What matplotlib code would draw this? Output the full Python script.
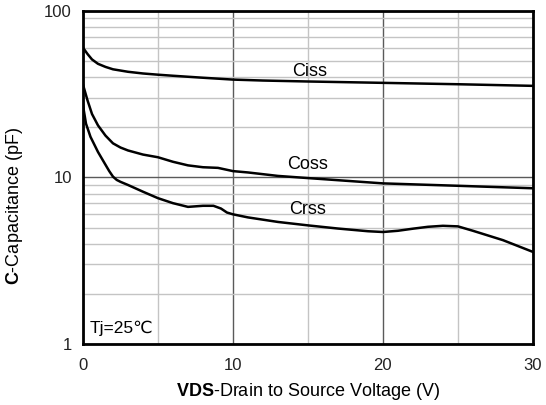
import numpy as np
import matplotlib.pyplot as plt
from matplotlib.ticker import FixedLocator, NullFormatter, FuncFormatter

plt.rcParams['font.family'] = ['Liberation Sans', 'DejaVu Sans']
plt.rcParams['mathtext.fontset'] = 'custom'
plt.rcParams['mathtext.rm'] = 'Liberation Sans'
plt.rcParams['mathtext.bf'] = 'Liberation Sans:bold'

# capacitance vs drain-source voltage, Tj = 25C
vds_ciss = [0, 0.3, 0.6, 1, 1.5, 2, 3, 4, 5, 6, 8, 10, 12, 15, 20, 25, 30]
ciss = [60, 55, 51, 48, 46, 44.5, 43, 42, 41.3, 40.7, 39.6, 38.6, 38.1, 37.6, 36.9, 36.2, 35.4]

vds_coss = [0, 0.3, 0.6, 1, 1.5, 2, 2.5, 3, 4, 5, 6, 7, 8, 9, 10, 11, 13, 15, 20, 25, 30]
coss = [36, 29, 24, 20.5, 17.8, 16, 15.1, 14.5, 13.7, 13.2, 12.4, 11.8, 11.5, 11.4, 10.9,
        10.7, 10.2, 9.9, 9.2, 8.9, 8.6]

vds_crss = [0, 0.2, 0.5, 1, 1.5, 1.75, 2, 2.25, 2.5, 3, 4, 5, 6, 7, 8, 8.7, 9.2, 9.6, 10,
            11, 13, 15, 17, 19, 20, 21, 22, 23, 24, 25, 26, 28, 30]
crss = [27, 21, 17.5, 14.2, 11.9, 10.9, 10.1, 9.65, 9.4, 9.0, 8.2, 7.5, 7.0, 6.65, 6.75,
        6.75, 6.5, 6.15, 6.0, 5.75, 5.4, 5.15, 4.93, 4.75, 4.7, 4.78, 4.92, 5.05, 5.12,
        5.08, 4.78, 4.2, 3.57]

fig = plt.figure(figsize=(5.46, 4.05), dpi=100)
ax = fig.add_axes([0.152, 0.1506, 0.824, 0.823])

ax.set_yscale('log')
ax.set_xlim(0, 30)
ax.set_ylim(1, 100)

ax.xaxis.set_major_locator(FixedLocator([0, 10, 20, 30]))
ax.xaxis.set_minor_locator(FixedLocator([5, 15, 25]))
ax.yaxis.set_major_locator(FixedLocator([1, 10, 100]))
ax.yaxis.set_minor_locator(FixedLocator([m * d for d in (1, 10) for m in range(2, 10)]))
ax.yaxis.set_major_formatter(FuncFormatter(lambda v, p: f'{v:g}'))
ax.yaxis.set_minor_formatter(NullFormatter())

ax.grid(True, which='major', color='#5a5a5a', linewidth=1.0)
ax.grid(True, which='minor', color='#c4c4c4', linewidth=1.0)
ax.set_axisbelow(True)
ax.tick_params(which='both', length=0, labelsize=12, colors='#222222', pad=8)
ax.tick_params(axis='x', pad=10)
for s in ax.spines.values():
    s.set_linewidth(2)
    s.set_color('black')

ax.plot(vds_ciss, ciss, color='black', lw=1.8)
ax.plot(vds_coss, coss, color='black', lw=1.8)
ax.plot(vds_crss, crss, color='black', lw=1.8)

ax.text(15.1, 43, 'Ciss', fontsize=13, ha='center', va='center')
ax.text(15.0, 12.0, 'Coss', fontsize=13, ha='center', va='center')
ax.text(15.0, 6.4, 'Crss', fontsize=13, ha='center', va='center')
ax.text(0.45, 1.24, 'Tj=25℃', fontsize=12.5, ha='left', va='center')

ax.set_xlabel(r'$\mathbf{VDS}$-Drain to Source Voltage (V)', fontsize=13, labelpad=6)
fig.text(0.027, 1 - 206 / 405, r'$\mathbf{C}$-Capacitance (pF)', fontsize=13,
         rotation=90, ha='center', va='center')

plt.savefig('out.png', dpi=100)
